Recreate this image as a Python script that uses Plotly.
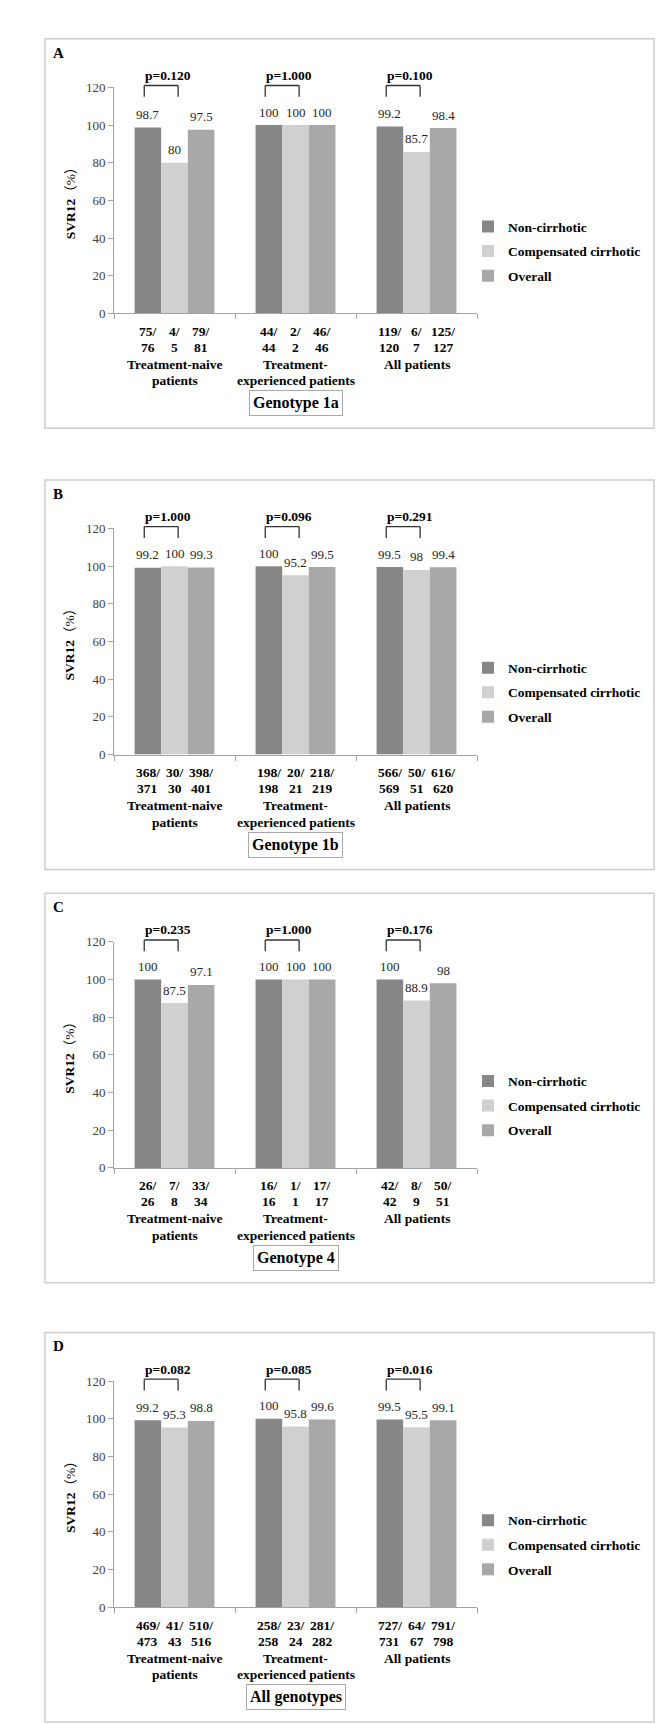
import plotly.graph_objects as go

W, H = 669, 1724
FONT = "Liberation Serif, Noto Sans CJK SC"

# ---------------- data ----------------
series_names = ["Non-cirrhotic", "Compensated cirrhotic", "Overall"]
series_colors = ["#878787", "#d0d0d0", "#a8a8a8"]
categories = ["Treatment-naive\npatients", "Treatment-\nexperienced patients", "All patients"]
panel_letters = ["A", "B", "C", "D"]
panel_titles = ["Genotype 1a", "Genotype 1b", "Genotype 4", "All genotypes"]
y_ticks = [0, 20, 40, 60, 80, 100, 120]

# Panel A - Genotype 1a
a_noncirr = [98.7, 100, 99.2]
a_comp = [80, 100, 85.7]
a_overall = [97.5, 100, 98.4]
a_frac_noncirr = ["75/76", "44/44", "119/120"]
a_frac_comp = ["4/5", "2/2", "6/7"]
a_frac_overall = ["79/81", "46/46", "125/127"]
a_pvalues = ["p=0.120", "p=1.000", "p=0.100"]

# Panel B - Genotype 1b
b_noncirr = [99.2, 100, 99.5]
b_comp = [100, 95.2, 98]
b_overall = [99.3, 99.5, 99.4]
b_frac_noncirr = ["368/371", "198/198", "566/569"]
b_frac_comp = ["30/30", "20/21", "50/51"]
b_frac_overall = ["398/401", "218/219", "616/620"]
b_pvalues = ["p=1.000", "p=0.096", "p=0.291"]

# Panel C - Genotype 4
c_noncirr = [100, 100, 100]
c_comp = [87.5, 100, 88.9]
c_overall = [97.1, 100, 98]
c_frac_noncirr = ["26/26", "16/16", "42/42"]
c_frac_comp = ["7/8", "1/1", "8/9"]
c_frac_overall = ["33/34", "17/17", "50/51"]
c_pvalues = ["p=0.235", "p=1.000", "p=0.176"]

# Panel D - All genotypes
d_noncirr = [99.2, 100, 99.5]
d_comp = [95.3, 95.8, 95.5]
d_overall = [98.8, 99.6, 99.1]
d_frac_noncirr = ["469/473", "258/258", "727/731"]
d_frac_comp = ["41/43", "23/24", "64/67"]
d_frac_overall = ["510/516", "281/282", "791/798"]
d_pvalues = ["p=0.082", "p=0.085", "p=0.016"]

panels = [
    ([a_noncirr, a_comp, a_overall], [a_frac_noncirr, a_frac_comp, a_frac_overall], a_pvalues),
    ([b_noncirr, b_comp, b_overall], [b_frac_noncirr, b_frac_comp, b_frac_overall], b_pvalues),
    ([c_noncirr, c_comp, c_overall], [c_frac_noncirr, c_frac_comp, c_frac_overall], c_pvalues),
    ([d_noncirr, d_comp, d_overall], [d_frac_noncirr, d_frac_comp, d_frac_overall], d_pvalues),
]

# ---------------- layout constants (pixels) ----------------
box_tops = [24, 469, 886, 1329]
box_h = 393
box_l, box_r = 37, 646
plot_l, plot_r = 106, 469
plot_top_off, plot_bot_off = 49, 277
legend_text_x = 500
ymax = 120
bargap = 0.34
xmin, xmax = -0.5, len(categories) - 0.5
bar_w = (1 - bargap) / len(series_names)
offsets = [(j - (len(series_names) - 1) / 2) * bar_w for j in range(len(series_names))]

AXIS_COLOR = "#a3a3a3"


def px_x(p):
    return p / W


def px_y(p):
    return 1 - p / H


def xd(x):
    return (x - xmin) / (xmax - xmin)


fig = go.Figure()
shapes = []
annotations = []
layout_extra = {}

for k, (vals, fracs, pvals) in enumerate(panels):
    n = "" if k == 0 else str(k + 1)
    xa, ya = "x" + n, "y" + n
    leg = "legend" + n
    top = box_tops[k]

    for j, name in enumerate(series_names):
        fig.add_trace(go.Bar(
            x=list(range(len(categories))), y=vals[j], name=name,
            marker=dict(color=series_colors[j], line=dict(width=0)),
            xaxis=xa, yaxis=ya, legend=leg, legendgroup=f"{k}-{j}",
            hoverinfo="skip",
        ))
        for i in range(len(categories)):
            xpos = i + offsets[j]
            # value labels
            annotations.append(dict(
                x=xpos, y=vals[j][i], xref=xa, yref=ya, text=f"{vals[j][i]:g}",
                showarrow=False, yanchor="middle", yshift=13,
                font=dict(family=FONT, size=13, color="#262626"),
            ))
            num, den = fracs[j][i].split("/")
            for li, (txt, sh) in enumerate([(num + "/", -18), (den, -34)]):
                annotations.append(dict(
                    x=xpos, y=0, xref=xa, yref=ya + " domain", text=txt,
                    showarrow=False, yanchor="middle", yshift=sh,
                    font=dict(family=FONT, size=13.5, color="black", weight="bold"),
                ))

    for i, cat in enumerate(categories):
        for li, line in enumerate(cat.split("\n")):
            annotations.append(dict(
                x=i, y=0, xref=xa, yref=ya + " domain", text=line,
                showarrow=False, yanchor="middle", yshift=-51 - 16.5 * li,
                font=dict(family=FONT, size=13.5, color="black", weight="bold"),
            ))
        # significance bracket between non-cirrhotic and compensated cirrhotic
        bx0 = i + offsets[0] - 0.03
        bx1 = i + offsets[1] + 0.03
        ytop, ybot = 121 / ymax, 115 / ymax
        for (x0, y0, x1, y1) in [(bx0, ybot, bx0, ytop), (bx0, ytop, bx1, ytop), (bx1, ytop, bx1, ybot)]:
            shapes.append(dict(type="line", xref=xa + " domain", yref=ya + " domain",
                               x0=xd(x0), y0=y0, x1=xd(x1), y1=y1,
                               line=dict(color="#333333", width=1.3)))
        annotations.append(dict(
            x=xd(bx0), y=ytop, xref=xa + " domain", yref=ya + " domain", text=pvals[i],
            showarrow=False, xanchor="left", yanchor="middle", yshift=10, xshift=-1,
            font=dict(family=FONT, size=13.5, color="black", weight="bold"),
        ))

    # genotype label box
    annotations.append(dict(
        x=(len(categories) - 1) / 2, y=0, xref=xa, yref=ya + " domain", text=panel_titles[k],
        showarrow=False, yanchor="middle", yshift=-90,
        font=dict(family=FONT, size=16, color="black", weight="bold"),
        bordercolor="#a8a8a8", borderwidth=1, borderpad=3, bgcolor="white",
    ))
    # panel letter
    annotations.append(dict(
        x=px_x(box_l + 6), y=px_y(top + 14), xref="paper", yref="paper", text=panel_letters[k],
        showarrow=False, xanchor="left", yanchor="middle",
        font=dict(family=FONT, size=15, color="black", weight="bold"),
    ))
    # y-axis title
    annotations.append(dict(
        x=px_x(62), y=0.5, xref="paper", yref=ya + " domain", text="<b>SVR12</b>（%）",
        showarrow=False, textangle=-90, xanchor="center", yanchor="middle",
        font=dict(family=FONT, size=13.5, color="black"),
    ))
    # panel frame
    shapes.append(dict(type="rect", xref="paper", yref="paper",
                       x0=px_x(box_l), x1=px_x(box_r), y0=px_y(top), y1=px_y(top + box_h),
                       line=dict(color="#cdcdcd", width=1.5), layer="below"))

    dom_y = [px_y(top + plot_bot_off), px_y(top + plot_top_off)]
    layout_extra["xaxis" + n] = dict(
        domain=[px_x(plot_l), px_x(plot_r)], range=[xmin, xmax], anchor=ya,
        tickvals=[xmin + t for t in range(len(categories) + 1)], showticklabels=False,
        ticks="outside", ticklen=5, tickcolor=AXIS_COLOR, showline=True, linecolor=AXIS_COLOR,
        linewidth=1, showgrid=False, zeroline=False, fixedrange=True,
    )
    layout_extra["yaxis" + n] = dict(
        domain=dom_y, range=[0, ymax], anchor=xa, tickvals=y_ticks,
        ticks="outside", ticklen=5, tickcolor=AXIS_COLOR, showline=True, linecolor=AXIS_COLOR,
        linewidth=1, showgrid=False, zeroline=False,
        tickfont=dict(family=FONT, size=13, color="#404040"), fixedrange=True,
    )
    layout_extra[leg] = dict(
        x=px_x(legend_text_x - 40), xanchor="left",
        y=px_y(top + 174), yanchor="top",
        font=dict(family=FONT, size=13.5, color="black", weight="bold"),
        bgcolor="rgba(0,0,0,0)", itemwidth=30, tracegroupgap=4, traceorder="grouped",
        itemclick=False, itemdoubleclick=False,
    )

fig.update_layout(
    width=W, height=H, margin=dict(l=0, r=0, t=0, b=0),
    paper_bgcolor="white", plot_bgcolor="white",
    barmode="group", bargap=bargap, bargroupgap=0,
    shapes=shapes, annotations=annotations, showlegend=True,
    **layout_extra,
)

fig.write_html("out.html")
